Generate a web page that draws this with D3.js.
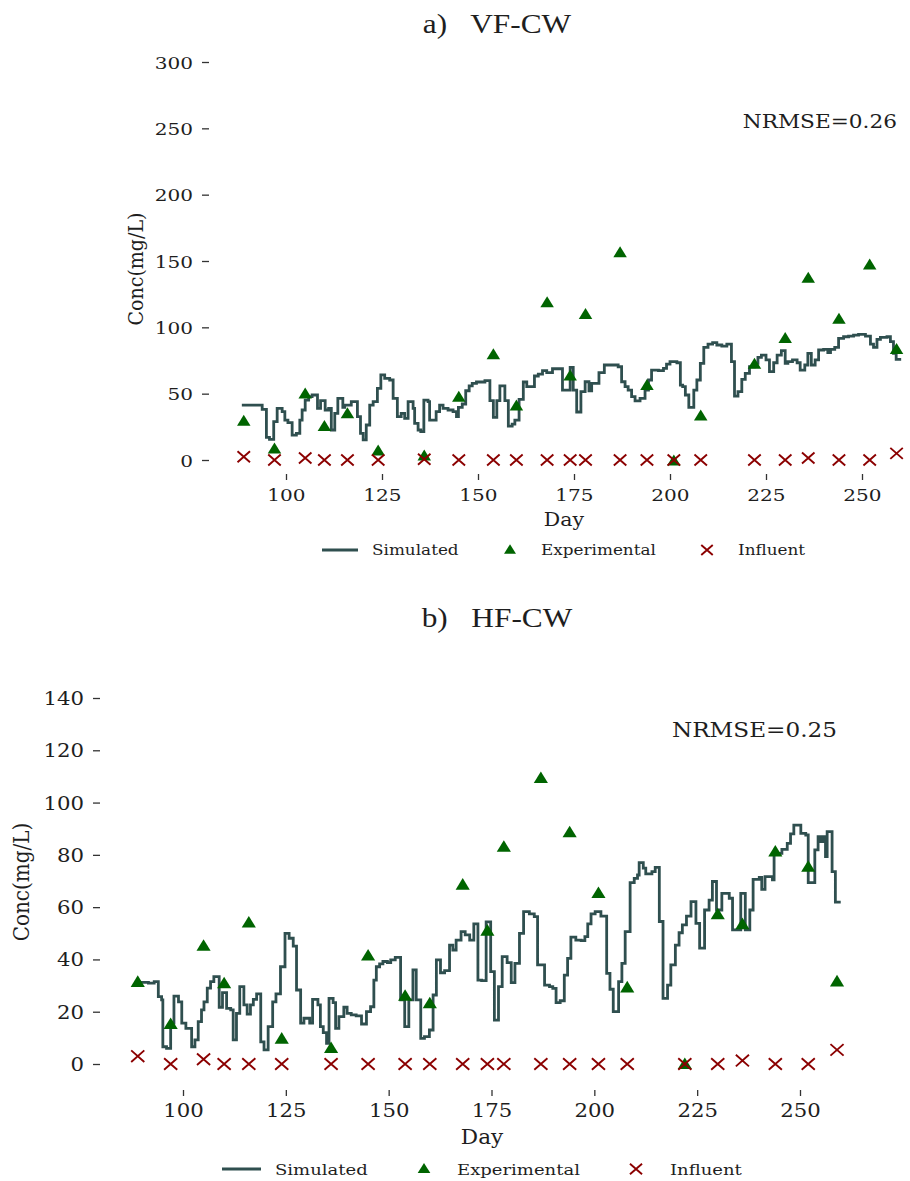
<!DOCTYPE html>
<html>
<head>
<meta charset="utf-8">
<script src="https://cdn.jsdelivr.net/npm/d3@7"></script>
<style>
  html, body { margin: 0; padding: 0; background: #fff; }
  svg { display: block; }
</style>
</head>
<body>
<svg id="fig" width="910" height="1181"></svg>
<script>
// ---- sampling days shared by experimental and influent measurements ----
const sampleDays = [89, 97, 105, 110, 116, 124, 136, 145, 154, 160, 168, 174, 178, 187, 194, 201, 208, 222, 230, 236, 244, 252, 259];

// ---- VF-CW ----
const vfExperimental = [30, 9, 50.5, 26, 35.6, 7.5, 3.8, 48, 80, 41.5, 119.3, 64, 110.5, 157, 57, 0, 34, 72.9, 92.4, 137.7, 106.8, 147.7, 84];
const vfInfluent = [2.5, 0, 1.5, 0, 0, 0, 0.5, 0, 0, 0, 0, 0, 0, 0, 0, 0, 0, 0, 0, 1.5, 0, 0, 5];
// simulated step series: day where each level starts, and the level
const vfSimDay = [88.5, 93.8, 94.9, 95.7, 96.8, 97.7, 99.0, 99.7, 100.5, 101.6, 102.7, 103.6, 104.2, 105.0, 105.9, 106.8, 108.2, 109.0, 110.2, 111.1, 111.8, 112.7, 113.5, 114.8, 115.3, 117.0, 118.6, 119.4, 120.1, 120.9, 121.8, 122.7, 123.8, 124.7, 125.7, 127.0, 127.9, 129.0, 130.0, 130.9, 131.8, 133.1, 133.5, 134.4, 135.1, 135.9, 137.0, 137.4, 139.1, 140.0, 140.9, 142.2, 143.5, 144.4, 144.9, 145.9, 146.8, 147.7, 148.5, 149.6, 151.8, 153.1, 154.0, 154.9, 155.7, 157.0, 157.9, 158.9, 159.6, 160.7, 161.8, 162.7, 164.7, 165.7, 166.8, 167.9, 169.4, 172.0, 174.0, 174.8, 175.7, 176.8, 177.9, 178.9, 179.6, 181.5, 182.9, 186.5, 187.4, 188.3, 189.1, 190.0, 190.9, 192.2, 193.5, 194.4, 195.2, 197.0, 198.3, 199.1, 200.0, 201.8, 202.7, 203.3, 204.0, 204.9, 206.2, 207.0, 207.9, 208.8, 209.9, 211.1, 212.2, 213.5, 214.8, 216.0, 216.8, 217.7, 218.7, 219.6, 220.7, 222.0, 222.9, 223.8, 225.0, 225.9, 227.0, 227.9, 229.0, 230.0, 230.7, 231.9, 233.1, 233.9, 235.1, 235.9, 236.8, 237.8, 238.7, 240.0, 241.1, 241.8, 242.9, 243.9, 245.2, 246.5, 247.8, 249.1, 250.9, 252.2, 253.0, 253.9, 254.8, 256.5, 257.4, 258.2, 258.9, 260.2];
const vfSimVal = [41.4, 38.2, 17.1, 15.6, 28.9, 38.9, 36.4, 30.1, 28.1, 18.8, 20.1, 30.1, 37.7, 45.2, 47.7, 49.0, 38.9, 44.7, 37.7, 38.9, 22.6, 35.2, 46.5, 39.7, 41.4, 44.0, 32.7, 20.1, 15.1, 26.4, 41.4, 44.0, 54.0, 64.1, 61.5, 60.3, 46.5, 32.7, 35.2, 31.4, 44.0, 38.9, 27.6, 22.6, 21.4, 45.2, 44.0, 30.1, 36.4, 41.4, 38.9, 37.7, 36.4, 32.7, 39.7, 42.2, 52.2, 55.8, 57.8, 58.8, 59.8, 44.7, 32.2, 44.7, 55.8, 44.7, 25.6, 27.1, 30.1, 45.7, 58.8, 55.3, 63.3, 64.8, 67.3, 65.8, 68.8, 52.7, 69.8, 52.7, 36.2, 51.5, 59.0, 52.2, 57.8, 65.8, 71.6, 70.3, 59.0, 55.3, 52.7, 47.7, 44.5, 46.5, 52.7, 60.3, 67.8, 67.3, 69.1, 72.3, 74.1, 73.3, 56.5, 55.3, 49.0, 39.7, 52.7, 60.3, 72.8, 84.9, 87.4, 88.4, 86.7, 85.9, 87.4, 74.1, 48.2, 51.5, 60.8, 65.3, 70.3, 72.8, 77.4, 79.1, 75.4, 66.6, 73.3, 79.1, 82.4, 72.8, 74.1, 75.4, 73.3, 67.8, 71.6, 80.4, 71.6, 75.4, 82.9, 83.4, 80.9, 83.4, 84.9, 91.7, 92.9, 93.4, 94.2, 94.7, 93.4, 87.4, 84.9, 90.9, 92.4, 92.9, 89.2, 80.4, 75.9, 75.9];
const vfTicksY = [0, 50, 100, 150, 200, 250, 300];

// ---- HF-CW ----
const hfExperimental = [31.7, 15.6, 45.5, 31.2, 54.4, 10, 6.4, 41.8, 26.4, 23.5, 68.9, 51.3, 83.4, 109.7, 88.9, 65.7, 29.6, 0.3, 57.6, 53.8, 81.6, 75.7, 31.9];
const hfInfluent = [3, 0, 1.8, 0, 0, 0, 0, 0, 0, 0, 0, 0, 0, 0, 0, 0, 0, 0, 0, 1.3, 0, 0, 5.4];
const hfSimDay = [89.0, 91.6, 93.0, 94.0, 94.8, 95.1, 96.0, 97.0, 97.8, 98.9, 99.7, 100.7, 102.1, 102.9, 103.7, 104.5, 105.1, 105.9, 106.7, 107.5, 108.8, 109.6, 110.6, 111.6, 112.2, 113.0, 113.8, 114.8, 115.6, 116.4, 117.1, 117.9, 118.9, 119.7, 120.7, 121.8, 122.6, 123.7, 124.8, 125.8, 126.8, 127.6, 128.6, 129.4, 130.8, 131.5, 132.8, 133.4, 134.1, 134.9, 135.5, 136.5, 137.1, 137.9, 139.1, 139.9, 140.9, 142.1, 143.4, 144.6, 145.6, 146.4, 147.0, 147.8, 148.6, 149.7, 150.5, 151.6, 152.9, 153.9, 154.9, 155.9, 156.7, 157.8, 158.7, 159.9, 160.8, 161.6, 162.6, 163.6, 164.8, 165.6, 166.4, 167.6, 168.6, 169.7, 170.7, 171.7, 172.6, 173.7, 174.8, 175.7, 176.7, 177.6, 178.8, 179.8, 180.7, 181.8, 182.8, 184.2, 185.4, 186.2, 187.9, 189.1, 189.9, 190.7, 191.7, 192.7, 193.5, 194.3, 195.5, 196.8, 197.7, 198.4, 199.2, 200.2, 201.6, 203.0, 203.8, 204.6, 205.9, 206.7, 207.5, 208.7, 209.7, 210.5, 210.9, 211.9, 212.5, 214.0, 214.8, 215.8, 216.7, 217.8, 218.6, 219.7, 220.6, 221.4, 222.4, 223.5, 224.7, 225.6, 226.8, 227.9, 228.7, 229.7, 231.0, 232.8, 233.6, 235.6, 236.7, 237.8, 238.6, 240.1, 240.7, 241.5, 243.3, 243.7, 245.6, 246.9, 247.7, 248.5, 250.2, 251.4, 252.0, 253.6, 254.4, 255.0, 255.6, 256.2, 256.6, 257.8, 258.6, 259.9];
const hfSimVal = [31.2, 30.9, 31.5, 25.8, 24.5, 6.6, 6.0, 15.6, 26.0, 23.8, 15.6, 13.6, 6.6, 9.2, 16.2, 20.7, 23.8, 29.0, 31.5, 33.4, 21.7, 27.3, 21.3, 20.7, 9.2, 19.4, 29.6, 22.6, 19.1, 22.6, 24.7, 26.8, 8.5, 5.4, 14.3, 23.8, 26.8, 37.2, 50.0, 48.1, 45.1, 28.3, 15.6, 17.5, 15.6, 24.7, 22.6, 14.3, 12.0, 7.9, 25.1, 23.5, 13.6, 18.1, 21.7, 19.4, 18.8, 18.4, 15.3, 20.0, 21.9, 32.1, 37.2, 38.3, 39.2, 38.8, 39.8, 40.8, 24.5, 14.3, 24.5, 36.0, 24.5, 9.8, 10.5, 13.0, 26.4, 39.8, 34.9, 35.7, 45.5, 43.6, 47.4, 50.6, 49.4, 47.4, 53.6, 32.1, 31.9, 54.4, 35.3, 16.8, 29.6, 41.1, 38.8, 31.1, 38.5, 50.0, 58.3, 57.4, 56.4, 37.9, 30.2, 29.6, 28.9, 23.5, 24.2, 34.0, 40.4, 48.5, 47.4, 47.2, 48.7, 53.6, 57.4, 58.3, 56.6, 34.7, 28.6, 20.0, 31.5, 38.5, 50.6, 69.4, 71.0, 72.3, 77.0, 74.9, 72.7, 73.6, 75.2, 54.5, 25.1, 30.2, 37.9, 45.5, 50.2, 53.2, 56.6, 62.1, 53.8, 44.3, 58.9, 62.7, 69.8, 58.9, 65.3, 63.4, 51.3, 65.3, 51.3, 58.9, 70.6, 71.4, 66.8, 71.7, 70.4, 80.6, 82.1, 84.4, 88.0, 91.4, 88.2, 87.6, 69.4, 81.9, 87.0, 85.1, 87.0, 79.3, 88.9, 73.6, 61.9, 61.9];
const hfTicksY = [0, 20, 40, 60, 80, 100, 120, 140];

const ticksX = [100, 125, 150, 175, 200, 225, 250];
const legendLabels = ["Simulated", "Experimental", "Influent"];

// ---- styling ----
const COL_SIM = "#2f4f4f";
const COL_EXP = "#006400";
const COL_INF = "#8b0000";
const COL_TXT = "#1e1e1e";
const SERIF = '"DejaVu Serif", serif';
const TITLE_FONT = '"Liberation Serif", "Times New Roman", serif';

const panels = [
  {
    title: "a)   VF-CW", titleX: 497, titleY: 33,
    simDay: vfSimDay, simVal: vfSimVal, exp: vfExperimental, inf: vfInfluent, yTicks: vfTicksY,
    yDomain: [0, 300], yRange: [460, 62], xRange: [286, 862],
    axisX: 209, axisY: 474, fsTick: 17, sx: 1.18, fsLab: 19, fsLeg: 14.4, fsNote: 18.5,
    dayX: 564, dayY: 526, concX: 143, concY: 269,
    note: "NRMSE=0.26", noteX: 897, noteY: 128,
    legY: 550, legLine: [322, 358], legText: [372, 541, 738], legMark: [510, 707],
    mk: 1.0
  },
  {
    title: "b)   HF-CW", titleX: 497, titleY: 627,
    simDay: hfSimDay, simVal: hfSimVal, exp: hfExperimental, inf: hfInfluent, yTicks: hfTicksY,
    yDomain: [0, 140], yRange: [1064, 698], xRange: [183, 800],
    axisX: 100, axisY: 1090, fsTick: 18, sx: 1.18, fsLab: 20, fsLeg: 15.4, fsNote: 19.8,
    dayX: 482, dayY: 1144, concX: 29, concY: 882,
    note: "NRMSE=0.25", noteX: 837, noteY: 737,
    legY: 1169, legLine: [222, 261], legText: [275, 457, 670], legMark: [424, 636],
    mk: 1.05
  }
];

const svg = d3.select("#fig");

function addText(g, str, x, y, o) {
  const t = g.append("text")
    .attr("transform", `translate(${x},${y}) scale(${o.sx || 1},1)` + (o.rotate ? " rotate(-90)" : ""))
    .attr("text-anchor", o.anchor || "start")
    .attr("fill", COL_TXT)
    .style("font-family", o.family || SERIF)
    .style("font-size", o.size + "px")
    .style("white-space", "pre")
    .text(str);
  if (o.dy) t.attr("dy", o.dy);
  return t;
}

function triPath(w, h) {
  return `M0,${-h / 2}L${w / 2},${h / 2}L${-w / 2},${h / 2}Z`;
}
function crossPath(w, h) {
  return `M${-w / 2},${-h / 2}L${w / 2},${h / 2}M${-w / 2},${h / 2}L${w / 2},${-h / 2}`;
}

panels.forEach(p => {
  const g = svg.append("g");
  const x = d3.scaleLinear().domain([100, 250]).range(p.xRange);
  const y = d3.scaleLinear().domain(p.yDomain).range(p.yRange);

  // title
  addText(g, p.title, p.titleX, p.titleY, { size: 28, anchor: "middle", sx: 1.12, family: TITLE_FONT });

  // y axis (no spine)
  const ya = g.append("g")
    .attr("transform", `translate(${p.axisX},0)`)
    .call(d3.axisLeft(y).tickValues(p.yTicks).tickSize(7).tickPadding(9).tickFormat(d3.format("d")));
  ya.select(".domain").remove();
  ya.selectAll(".tick line").attr("stroke", "#333").attr("stroke-width", 1.3);
  ya.selectAll(".tick text").each(function () {
    const t = d3.select(this);
    const tx = +t.attr("x");
    t.attr("x", null).attr("dy", "0.36em")
      .attr("transform", `translate(${tx},0) scale(${p.sx},1)`)
      .attr("fill", COL_TXT)
      .style("font-family", SERIF).style("font-size", p.fsTick + "px");
  });

  // x axis (no spine)
  const xa = g.append("g")
    .attr("transform", `translate(0,${p.axisY})`)
    .call(d3.axisBottom(x).tickValues(ticksX).tickSize(6).tickFormat(d3.format("d")));
  xa.select(".domain").remove();
  xa.selectAll(".tick line").attr("stroke", "#333").attr("stroke-width", 1.3);
  xa.selectAll(".tick text").each(function () {
    const t = d3.select(this);
    t.attr("y", null).attr("dy", null)
      .attr("transform", `translate(0,${27}) scale(${p.sx},1)`)
      .attr("fill", COL_TXT)
      .style("font-family", SERIF).style("font-size", p.fsTick + "px");
  });

  // axis titles
  addText(g, "Day", p.dayX, p.dayY, { size: p.fsLab, anchor: "middle", sx: 1.08 });
  addText(g, "Conc(mg/L)", p.concX, p.concY, { size: p.fsLab, anchor: "middle", sx: 1.08, rotate: true });

  // simulated step line
  const simPts = p.simDay.map((d, i) => [d, p.simVal[i]]);
  const line = d3.line().x(d => x(d[0])).y(d => y(d[1])).curve(d3.curveStepAfter);
  g.append("path").datum(simPts)
    .attr("d", line)
    .attr("fill", "none")
    .attr("stroke", COL_SIM)
    .attr("stroke-width", 2.8)
    .attr("stroke-linejoin", "miter");

  // experimental triangles
  g.append("g").selectAll("path").data(sampleDays.map((d, i) => [d, p.exp[i]]))
    .join("path")
    .attr("transform", d => `translate(${x(d[0])},${y(d[1])})`)
    .attr("d", triPath(13.5 * p.mk, 11 * p.mk))
    .attr("fill", COL_EXP);

  // influent crosses
  g.append("g").selectAll("path").data(sampleDays.map((d, i) => [d, p.inf[i]]))
    .join("path")
    .attr("transform", d => `translate(${x(d[0])},${y(d[1])})`)
    .attr("d", crossPath(12.5 * p.mk, 11 * p.mk))
    .attr("fill", "none")
    .attr("stroke", COL_INF)
    .attr("stroke-width", 1.9);

  // NRMSE annotation
  addText(g, p.note, p.noteX, p.noteY, { size: p.fsNote, anchor: "end", sx: 1.17 });

  // legend
  const lg = g.append("g");
  lg.append("line")
    .attr("x1", p.legLine[0]).attr("x2", p.legLine[1])
    .attr("y1", p.legY).attr("y2", p.legY)
    .attr("stroke", COL_SIM).attr("stroke-width", 2.8);
  lg.append("path")
    .attr("transform", `translate(${p.legMark[0]},${p.legY - 1})`)
    .attr("d", triPath(12 * p.mk, 9.5 * p.mk))
    .attr("fill", COL_EXP);
  lg.append("path")
    .attr("transform", `translate(${p.legMark[1]},${p.legY})`)
    .attr("d", crossPath(11.5 * p.mk, 10 * p.mk))
    .attr("fill", "none").attr("stroke", COL_INF).attr("stroke-width", 1.9);
  legendLabels.forEach((lab, i) => {
    addText(lg, lab, p.legText[i], p.legY, { size: p.fsLeg, anchor: "start", sx: 1.17, dy: "0.36em" });
  });
});
</script>
</body>
</html>
